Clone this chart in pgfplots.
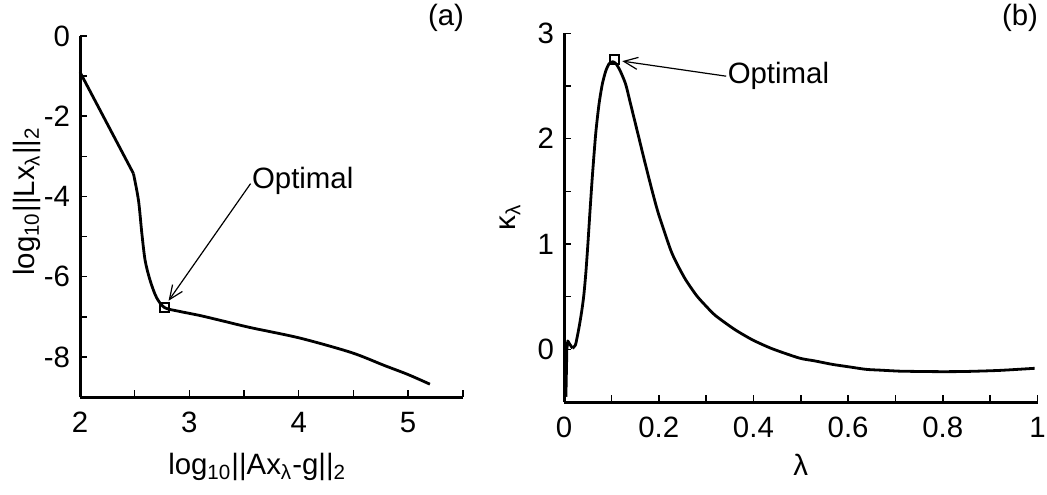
\documentclass[border=0pt]{standalone}
\usepackage{fontspec}
\setmainfont{Liberation Sans}
\usepackage{pgfplots}
\pgfplotsset{compat=1.18}
\usetikzlibrary{arrows.meta}
\begin{document}
\begin{tikzpicture}[font=\fontsize{14.7pt}{17pt}\selectfont]
\path[use as bounding box] (0,0) rectangle (523.5pt,247pt);
\pgfplotsset{
  myax/.style={
    scale only axis,
    axis x line*=bottom, axis y line*=left,
    axis line style={line width=1.5pt, black},
    tick align=inside,
    major tick length=3.5pt,
    every tick/.style={black, line width=0.8pt},
    /pgf/number format/assume math mode=true,
    tick label style={font=\fontsize{14.7pt}{17pt}\selectfont},
    label style={font=\fontsize{14.7pt}{17pt}\selectfont},
    yticklabel style={xshift=-1.5pt},
    xticklabel style={yshift=-4pt},
    clip=false,
  }
}
% (a)
\begin{axis}[myax,
  at={(40pt,48.5pt)}, anchor=south west,
  width=191.35pt, height=180.5pt,
  xmin=2, xmax=5.5, ymin=-9, ymax=0,
  xtick={2,2.5,3,3.5,4,4.5,5,5.5},
  xticklabels={2,,3,,4,,5,},
  ytick={-8,-7,-6,-5,-4,-3,-2,-1,0},
  yticklabels={-8,,-6,,-4,,-2,,0},
  xlabel={log\textsubscript{10}||Ax\textsubscript{λ}-g||\textsubscript{2}},
  ylabel={log\textsubscript{10}||Lx\textsubscript{λ}||\textsubscript{2}},
  xlabel style={at={(axis description cs:0.463,-0.216)}, anchor=base},
  ylabel style={at={(axis description cs:-0.1385,0.5416)}, anchor=center, rotate=0},
]
\addplot[black, line width=1.4pt, line join=round] coordinates {
(2.000,-0.90) (2.489,-3.43)
};
\addplot[black, line width=1.4pt, line join=round, smooth, tension=0.5] coordinates {
(2.489,-3.43) (2.535,-4.10) (2.566,-4.93) (2.596,-5.60)
(2.642,-6.10) (2.700,-6.52) (2.773,-6.77) (2.900,-6.86) (3.100,-6.97)
(3.300,-7.10) (3.560,-7.27) (4.010,-7.53) (4.480,-7.89) (4.780,-8.21) (5.000,-8.44) (5.200,-8.68)
};
\addplot[only marks, mark=square, mark size=2.2pt, mark options={line width=0.9pt, black}] coordinates {(2.773,-6.77)};
\draw[line width=0.6pt, -{Straight Barb[length=7pt,width=6pt]}] (axis cs:3.56,-3.68) -- (axis cs:2.81,-6.60);
\node[anchor=west, inner sep=0pt] at (axis cs:3.57,-3.62) {Optimal};
\end{axis}
% (b)
\begin{axis}[myax,
  at={(282pt,46pt)}, anchor=south west,
  width=236.75pt, height=184.35pt,
  xmin=0, xmax=1, ymin=-0.5, ymax=3,
  xtick={0,0.1,0.2,0.3,0.4,0.5,0.6,0.7,0.8,0.9,1},
  xticklabels={0,,0.2,,0.4,,0.6,,0.8,,1},
  ytick={0,0.5,1,1.5,2,2.5,3},
  yticklabels={0,,1,,2,,3},
  xlabel={λ},
  ylabel={κ\textsubscript{λ}},
  xlabel style={at={(axis description cs:0.5,-0.198)}, anchor=base},
  ylabel style={at={(axis description cs:-0.114,0.5)}, anchor=center},
]
\addplot[black, line width=1.4pt, line join=round] coordinates {
(0.004,-0.45) (0.006,0.00) (0.008,0.08) (0.012,0.05) (0.018,0.01)
};
\addplot[black, line width=1.4pt, line join=round, smooth, tension=0.4] coordinates {
(0.018,0.01) (0.024,0.04) (0.028,0.12) (0.033,0.24) (0.038,0.38) (0.042,0.52) (0.046,0.72)
(0.050,0.97) (0.055,1.32) (0.060,1.65) (0.067,2.05) (0.074,2.33) (0.081,2.52)
(0.088,2.64) (0.095,2.71) (0.103,2.73) (0.110,2.71) (0.118,2.65) (0.130,2.52)
(0.140,2.34) (0.1586,2.00) (0.170,1.79) (0.187,1.49) (0.200,1.28)
(0.2255,0.94) (0.240,0.80) (0.257,0.66) (0.280,0.51) (0.300,0.41) (0.320,0.32) (0.360,0.19)
(0.398,0.09) (0.440,0.005) (0.497,-0.083) (0.530,-0.11) (0.567,-0.143) (0.600,-0.165)
(0.638,-0.19) (0.670,-0.198) (0.708,-0.207) (0.750,-0.21) (0.800,-0.212) (0.850,-0.21)
(0.920,-0.20) (0.994,-0.18)
};
\addplot[only marks, mark=square, mark size=2.2pt, mark options={line width=0.9pt, black}] coordinates {(0.106,2.75)};
\draw[line width=0.6pt, -{Straight Barb[length=7pt,width=6pt]}] (axis cs:0.3425,2.593) -- (axis cs:0.123,2.736);
\node[anchor=west, inner sep=0pt] at (axis cs:0.345,2.60) {Optimal};
\end{axis}
\node at (223pt,238pt) {(a)};
\node at (510pt,238pt) {(b)};
\end{tikzpicture}
\end{document}
